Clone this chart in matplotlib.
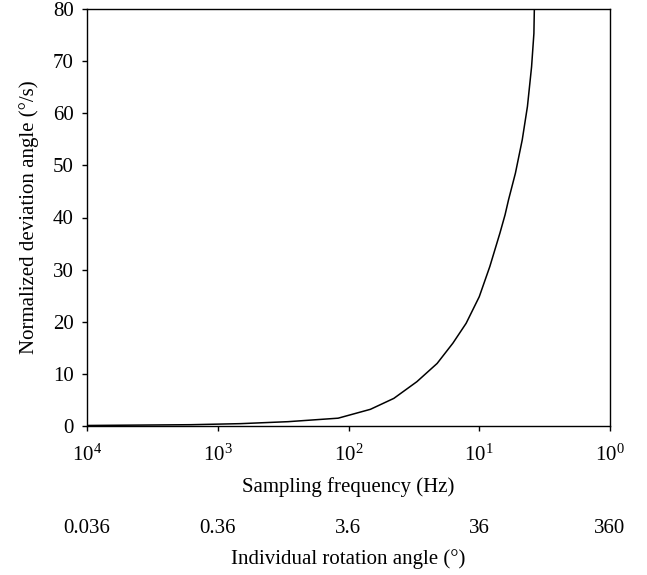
import numpy as np
import matplotlib
matplotlib.use('Agg')
import matplotlib.pyplot as plt
from matplotlib.ticker import NullLocator

plt.rcParams['font.family'] = ['Liberation Serif', 'DejaVu Serif']
plt.rcParams['mathtext.fontset'] = 'custom'
plt.rcParams['mathtext.rm'] = 'Liberation Serif'
plt.rcParams['mathtext.it'] = 'Liberation Serif'

# curve
freq_hz = [10000, 1600, 670, 290, 120, 68, 45, 30, 21, 15.9, 12.6, 10,
           8.3, 6.95, 6.35, 5.97, 5.29, 4.69, 4.28, 3.98, 3.82, 3.79]
deviation = [0.1, 0.25, 0.45, 0.83, 1.5, 3.2, 5.3, 8.5, 12.0, 15.9, 19.7, 24.8,
             30.6, 37.0, 40.5, 43.4, 48.5, 54.9, 61.3, 68.9, 75.3, 80]

freq_ticks = [1e4, 1e3, 1e2, 1e1, 1e0]
freq_labels = ['$10^{4}$', '$10^{3}$', '$10^{2}$', '$10^{1}$', '$10^{0}$']
angle_ticks = [0.036, 0.36, 3.6, 36, 360]
angle_labels = ['0.036', '0.36', '3.6', '36', '360']
y_ticks = [0, 10, 20, 30, 40, 50, 60, 70, 80]

fs = 15

fig = plt.figure(figsize=(6.47, 5.75), dpi=100)
ax = fig.add_axes([87 / 647, 1 - 426 / 575, (610 - 87) / 647, (426 - 9) / 575])

ax.plot(freq_hz, deviation, color='black', lw=1.1)

ax.set_xscale('log')
ax.set_xlim(1e4, 1e0)
ax.set_ylim(0, 80)
ax.set_xticks(freq_ticks, labels=freq_labels)
ax.xaxis.set_minor_locator(NullLocator())
ax.set_yticks(y_ticks)
ax.tick_params(direction='out', length=3.6, width=1, labelsize=fs)
ax.tick_params(axis='x', pad=10)
ax.tick_params(axis='y', pad=6)
for s in ax.spines.values():
    s.set_linewidth(1)

ax.set_xlabel('Sampling frequency (Hz)', fontsize=fs, labelpad=8)
ax.set_ylabel('Normalized deviation angle (°/s)', fontsize=fs, labelpad=10)

# second scale under the plot: rotation angle = 360 / frequency
with np.errstate(divide='ignore'):
    sec = ax.secondary_xaxis(-0.21, functions=(lambda f: 360 / f, lambda a: 360 / a))
sec.set_xticks(angle_ticks, labels=angle_labels)
sec.xaxis.set_minor_locator(NullLocator())
sec.tick_params(length=0, labelsize=fs, pad=4)
sec.spines['bottom'].set_visible(False)
sec.set_xlabel('Individual rotation angle (°)', fontsize=fs, labelpad=8)

fig.savefig('out.png', dpi=100)
